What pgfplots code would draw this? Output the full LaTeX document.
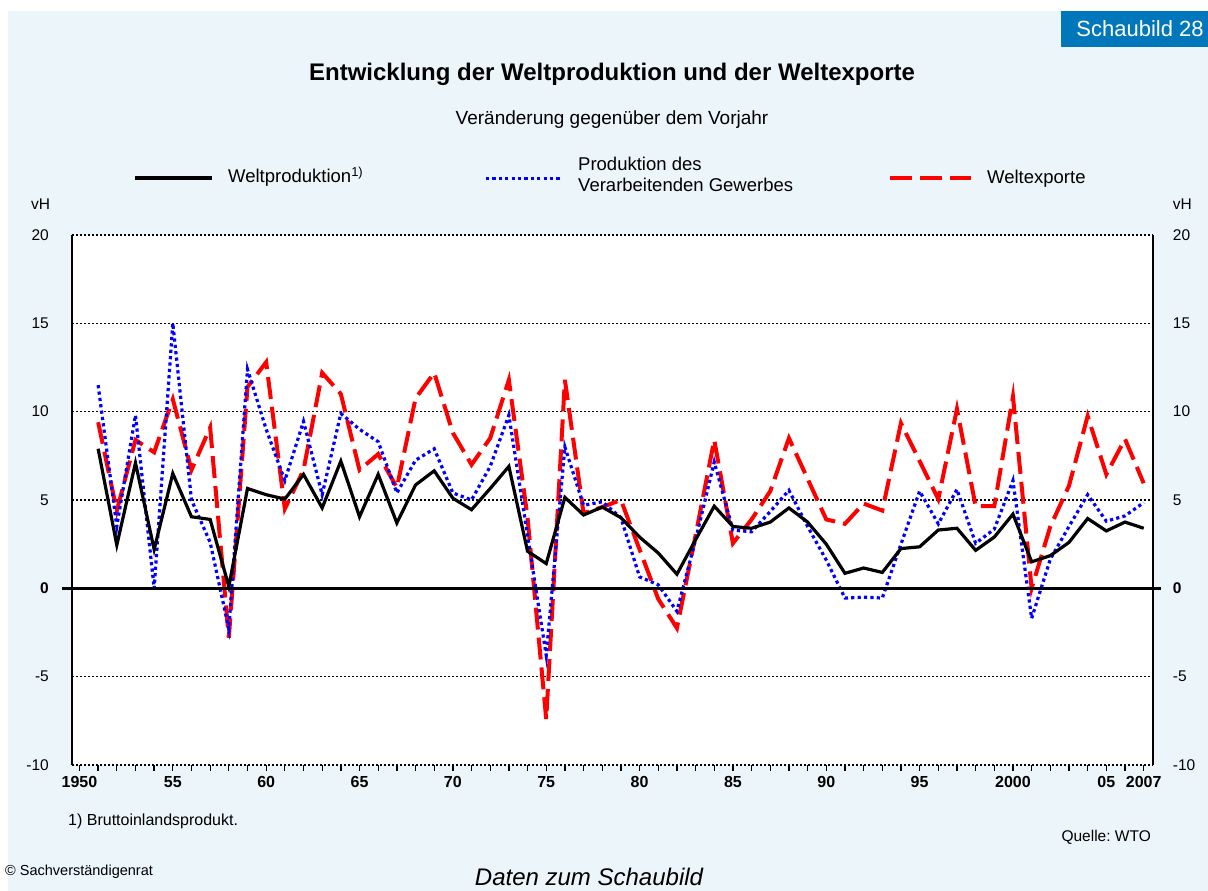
\documentclass[border=0pt]{standalone}
\usepackage{pgfplots}
\pgfplotsset{compat=1.18}
\usepackage{pgfplotstable}
\usepackage{fontspec}
\setmainfont{Liberation Sans}
\frenchspacing
\definecolor{panel}{RGB}{236,245,249}
\definecolor{sbblue}{RGB}{0,119,187}
\definecolor{lblue}{RGB}{0,0,255}
\definecolor{lred}{RGB}{255,0,0}
\pgfplotstableread{
year W P E
1951 7.9 11.5 9.4
1952 2.45 3.5 4.4
1953 7.1 9.8 8.4
1954 2.2 0.0 7.7
1955 6.5 15.0 10.7
1956 4.05 5.0 6.7
1957 3.9 2.6 9.1
1958 0.1 -2.3 -2.8
1959 5.65 12.4 11.4
1960 5.3 9.0 12.8
1961 5.05 6.1 4.5
1962 6.45 9.45 6.7
1963 4.55 5.3 12.2
1964 7.2 9.9 11.0
1965 4.05 9.0 6.7
1966 6.45 8.3 7.6
1967 3.7 5.4 5.7
1968 5.85 7.25 10.75
1969 6.65 7.9 12.2
1970 5.1 5.4 8.8
1971 4.45 5.0 7.0
1972 5.65 6.9 8.5
1973 6.9 9.8 11.8
1974 2.1 3.0 4.0
1975 1.4 -3.8 -7.4
1976 5.15 8.0 11.8
1977 4.15 4.7 4.25
1978 4.6 4.9 4.6
1979 4.0 4.0 5.0
1980 2.9 0.65 2.2
1981 2.0 0.2 -0.6
1982 0.8 -1.3 -2.25
1983 2.75 2.75 3.0
1984 4.65 7.15 8.4
1985 3.5 3.3 2.55
1986 3.4 3.2 3.9
1987 3.75 4.35 5.5
1988 4.55 5.55 8.5
1989 3.75 3.5 6.2
1990 2.5 1.6 3.9
1991 0.85 -0.55 3.65
1992 1.15 -0.5 4.8
1993 0.9 -0.55 4.4
1994 2.25 2.5 9.35
1995 2.35 5.5 7.2
1996 3.3 3.65 5.05
1997 3.4 5.6 10.15
1998 2.15 2.55 4.65
1999 2.9 3.35 4.65
2000 4.2 6.1 10.85
2001 1.5 -1.7 0.0
2002 1.85 1.65 3.5
2003 2.6 3.5 5.8
2004 3.95 5.3 9.75
2005 3.25 3.8 6.45
2006 3.75 4.1 8.45
2007 3.4 4.85 5.95
}\data
\tikzset{
  sW/.style={black, line width=3.2pt},
  sP/.style={lblue, line width=3.2pt, dash pattern=on 3.2pt off 3.2pt},
  sE/.style={lred, line width=4pt, dash pattern=on 22pt off 8pt},
}
\begin{document}
\begin{tikzpicture}
\path[use as bounding box] (0pt,0pt) rectangle (1208pt,891pt);
\fill[white] (0pt,0pt) rectangle (1208pt,891pt);
\fill[panel] (8pt,0pt) rectangle (1208pt,880pt);
\fill[sbblue] (1061pt,843.5pt) rectangle (1208pt,880pt);
\node[white, font=\fontsize{22}{26}\selectfont, anchor=base] at (1140pt,854pt) {Schaubild 28};
\node[font=\fontsize{24}{28}\selectfont\bfseries, anchor=base] at (612pt,810pt) {Entwicklung der Weltproduktion und der Weltexporte};
\node[font=\fontsize{19}{22}\selectfont, anchor=base] at (612pt,766pt) {Veränderung gegenüber dem Vorjahr};
% legend
\draw[sW] (135pt,713pt) -- (212pt,713pt);
\node[font=\fontsize{18.5}{21}\selectfont, anchor=base west, inner sep=0pt] at (228pt,708pt) {Weltproduktion\textsuperscript{1)}};
\draw[sP] (486pt,712.7pt) -- (562pt,712.7pt);
\node[font=\fontsize{18.5}{21}\selectfont, anchor=base west, inner sep=0pt] at (578pt,720pt) {Produktion des};
\node[font=\fontsize{18.5}{21}\selectfont, anchor=base west, inner sep=0pt] at (578pt,699.3pt) {Verarbeitenden Gewerbes};
\draw[sE] (890pt,713.3pt) -- (971pt,713.3pt);
\node[font=\fontsize{18.5}{21}\selectfont, anchor=base west, inner sep=0pt] at (987pt,707.7pt) {Weltexporte};
% vH
\node[font=\fontsize{15.5}{18}\selectfont, anchor=base west, inner sep=0pt] at (31pt,681pt) {vH};
\node[font=\fontsize{15.5}{18}\selectfont, anchor=base west, inner sep=0pt] at (1172.7pt,681pt) {vH};
% footer
\node[font=\fontsize{16}{19}\selectfont, anchor=base west, inner sep=0pt] at (68pt,65pt) {1) Bruttoinlandsprodukt.};
\node[font=\fontsize{15.5}{18}\selectfont, anchor=base east, inner sep=0pt] at (1151pt,49pt) {Quelle:\ WTO};
\node[font=\fontsize{14.5}{17}\selectfont, anchor=base west, inner sep=0pt] at (5pt,15pt) {© Sachverständigenrat};
\node[font=\fontsize{24}{28}\selectfont\itshape, anchor=base, inner sep=0pt] at (589pt,5pt) {Daten zum Schaubild};

\begin{axis}[
  at={(72pt,126pt)}, anchor=south west, scale only axis,
  width=1081pt, height=530pt,
  xmin=1949.6, xmax=2007.5, ymin=-10, ymax=20,
  clip=false,
  axis line style={draw=none},
  axis background/.style={fill=white},
  xtick={1950,1955,1960,1965,1970,1975,1980,1985,1990,1995,2000,2005,2007},
  xticklabels={1950,55,60,65,70,75,80,85,90,95,2000,05,2007},
  minor xtick={1951,1952,1953,1954,1956,1957,1958,1959,1961,1962,1963,1964,1966,1967,1968,1969,1971,1972,1973,1974,1976,1977,1978,1979,1981,1982,1983,1984,1986,1987,1988,1989,1991,1992,1993,1994,1996,1997,1998,1999,2001,2002,2003,2004,2006},
  xtick pos=bottom, tick align=outside,
  major tick length=6pt, minor tick length=6pt,
  tick style={black, line width=1.3pt},
  ytick={-10,-5,0,5,10,15,20},
  yticklabels={-10,-5,\textbf{0},5,10,15,20},
  ytick style={draw=none},
  ymajorgrids,
  major grid style={black, line width=1.6pt, dash pattern=on 1.6pt off 2.4pt},
  /pgf/number format/assume math mode=true,
  xticklabel style={font=\fontsize{16}{19}\selectfont\bfseries, text height=11.5pt, text depth=0pt, inner sep=0pt, yshift=-5pt},
  yticklabel style={font=\fontsize{15.5}{18}\selectfont, inner sep=0pt, xshift=-17pt},
]
\addplot[sE] table[x=year, y=E] {\data};
\addplot[sP] table[x=year, y=P] {\data};
\addplot[sW] table[x=year, y=W] {\data};
\draw[black, line width=2.6pt] ([xshift=-10pt]axis cs:1949.6,0) -- ([xshift=8pt]axis cs:2007.5,0);
\draw[black, line width=2.6pt] (rel axis cs:0,0) -- (rel axis cs:0,1);
\draw[black, line width=2.6pt] (rel axis cs:1,0) -- (rel axis cs:1,1);
\end{axis}
\begin{axis}[
  at={(72pt,126pt)}, anchor=south west, scale only axis,
  width=1081pt, height=530pt,
  xmin=1949.6, xmax=2007.5, ymin=-10, ymax=20,
  axis line style={draw=none},
  xtick=\empty,
  ytick={-10,-5,0,5,10,15,20},
  yticklabels={-10,-5,\textbf{0},5,10,15,20},
  yticklabel pos=right,
  ytick style={draw=none},
  /pgf/number format/assume math mode=true,
  yticklabel style={font=\fontsize{15.5}{18}\selectfont, inner sep=0pt, xshift=19.7pt},
]
\end{axis}
\end{tikzpicture}
\end{document}
